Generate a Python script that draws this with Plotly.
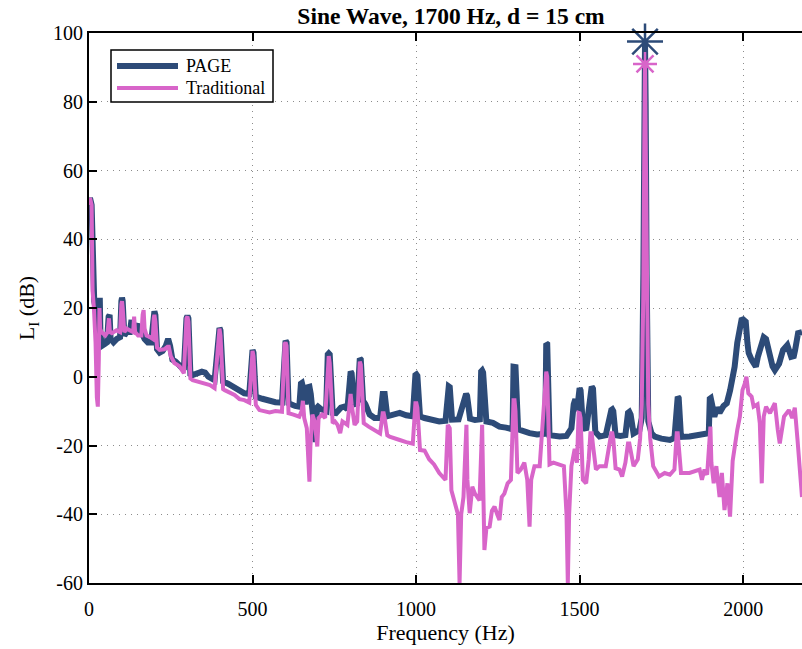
import plotly.graph_objects as go

# ---- data ----
page_f = [0, 3, 8, 12, 16, 20, 24, 28, 31, 33, 35, 40, 48, 55, 60, 63, 66, 75, 85, 95,
          99, 101, 103, 108, 115, 125, 130, 135, 140, 147, 150, 160, 170, 180, 190, 197, 200, 203,
          208, 216, 225, 235, 242, 248, 255, 265, 277, 290, 298, 301, 304, 310, 317, 330, 345, 355,
          365, 384, 396, 399, 402, 410, 425, 445, 460, 475, 490, 497, 500, 503, 510, 530, 552, 570,
          590, 598, 601, 604, 610, 630, 643, 648, 651, 654, 662, 670, 674, 678, 685, 693, 697, 700,
          710, 725, 730, 733, 736, 745, 755, 770, 781, 790, 797, 800, 803, 810, 820, 825, 828, 831,
          838, 845, 858, 873, 890, 898, 901, 904, 912, 925, 950, 970, 990, 998, 1001, 1004, 1012,
          1026, 1050, 1071, 1090, 1097, 1100, 1103, 1110, 1130, 1150, 1153, 1156, 1165, 1180, 1195,
          1199, 1202, 1205, 1215, 1235, 1255, 1275, 1295, 1298, 1301, 1304, 1312, 1330, 1347, 1370,
          1395, 1398, 1401, 1408, 1420, 1439, 1460, 1475, 1482, 1487, 1492, 1497, 1500, 1503, 1510,
          1520, 1533, 1537, 1541, 1548, 1561, 1580, 1597, 1600, 1603, 1610, 1625, 1640, 1648, 1652,
          1656, 1665, 1683, 1690, 1695, 1698, 1700, 1702, 1705, 1710, 1720, 1730, 1750, 1776, 1790,
          1797, 1800, 1803, 1810, 1836, 1860, 1880, 1895, 1898, 1901, 1905, 1912, 1920, 1928, 1940,
          1950, 1960, 1968, 1974, 1982, 1990, 1996, 2002, 2008, 2013, 2017, 2026, 2039, 2045, 2057,
          2063, 2070, 2076, 2082, 2090, 2097, 2110, 2122, 2135, 2147, 2155, 2159, 2168, 2180]
page_db = [50, 52, 50, 30, 22, 20, 12, 10, 21, 23, 12, 9, 9.5, 10, 17.5, 18, 11, 10, 11, 11.5,
           22, 23, 22, 12, 13, 13, 16.5, 13, 14, 15.5, 13, 13, 11, 10, 10, 18.5, 19, 18,
           8, 7, 7.5, 9, 11, 9, 5, 4.4, 3.4, 2, 17, 17.7, 17, 0.8, 0.5, 0.8, 1.5, 1.2,
           0, -1, 13.8, 14.2, 13.5, -1.4, -2, -3.3, -4.3, -4.8, -5, 7.5, 7.8, 7, -5.8, -6.4, -7, -7.4,
           -7.5, 10, 10.5, 10, -7.7, -8.5, -8.7, -2, -1.8, -3, -8, -3, -2.9, -5, -10, -19, -9, -8.7,
           -9.5, -10, 6.5, 6.8, 6.5, -10.5, -10.6, -9, -8.7, -9.5, 1.3, 1.5, 1, -8, -7.8, 5, 5.3, 5,
           -7, -8, -11, -12, -12, -5, -4.8, -5, -11.5, -11.2, -10.5, -11.2, -11.5, 0.5, 0.7, 0.3, -11.5,
           -12, -12.5, -13, -12.8, -3, -2.8, -3, -12.5, -12.4, -5.5, -5, -5.5, -12.2, -12.6, -12.4,
           1.5, 1.8, 1.2, -13, -13.4, -14.5, -14.8, -15.3, 2.9, 3.1, 2.8, -15.3, -16, -16.4, -16.8,
           -16.6, 9.7, 9.5, -17, -17.2, -17.4, -17.2, -15, -8, -6.5, -10, -3.5, -3.3, -4, -14,
           -15.5, -3, -2.9, -3.5, -16, -17.4, -17, -9.7, -9.5, -10, -17, -17.2, -17, -10.5, -10.2,
           -11, -16.5, -15.5, -12, 30, 80, 97.5, 80, 30, -13, -16.5, -17.4, -18, -18.4, -17.8,
           -6, -5.8, -6.2, -17.5, -17.4, -17, -16.6, -16.4, -6.4, -6.2, -8, -11.6, -9, -10.5, -8.5,
           -7.7, -4, 0, 2.9, 9.8, 14, 17, 16.5, 16, 10, 6.9, 4.9, 2.9, 5.8, 10.7,
           11.5, 11, 8, 5.8, 3, 1.9, 3.8, 7.8, 9.2, 5.8, 6, 7.8, 12.7, 13]

trad_f = [0, 3, 8, 11, 15, 20, 24, 27, 30, 32, 34, 38, 42, 50, 57, 61, 64, 70, 84, 95,
          99, 101, 103, 108, 115, 125, 135, 138, 141, 150, 160, 164, 167, 170, 176, 185, 195, 198,
          200, 203, 208, 216, 230, 240, 244, 250, 261, 277, 290, 298, 301, 304, 310, 317, 335, 353,
          370, 384, 396, 399, 402, 410, 415, 445, 460, 475, 490, 497, 500, 503, 510, 521, 552, 570,
          590, 598, 601, 604, 610, 625, 643, 650, 654, 658, 666, 671, 674, 677, 683, 690, 698, 702,
          712, 722, 730, 733, 736, 745, 752, 760, 768, 775, 790, 797, 800, 803, 812, 820, 825, 828,
          831, 840, 855, 873, 890, 898, 901, 904, 912, 919, 935, 950, 970, 990, 998, 1001, 1004,
          1012, 1026, 1040, 1055, 1071, 1090, 1097, 1100, 1103, 1108, 1120, 1128, 1133, 1138, 1145,
          1151, 1154, 1157, 1164, 1172, 1180, 1194, 1199, 1202, 1205, 1209, 1215, 1225, 1232, 1240,
          1248, 1255, 1262, 1270, 1280, 1290, 1298, 1301, 1304, 1310, 1320, 1331, 1340, 1347, 1352,
          1362, 1378, 1395, 1398, 1401, 1408, 1420, 1439, 1452, 1460, 1464, 1468, 1475, 1485, 1492,
          1497, 1500, 1503, 1510, 1520, 1528, 1533, 1537, 1541, 1550, 1561, 1580, 1597, 1600, 1603,
          1610, 1622, 1630, 1640, 1648, 1652, 1656, 1665, 1678, 1685, 1690, 1695, 1698, 1700, 1702,
          1705, 1710, 1716, 1725, 1743, 1760, 1776, 1790, 1797, 1800, 1803, 1810, 1836, 1850, 1867,
          1874, 1882, 1890, 1897, 1900, 1903, 1910, 1918, 1928, 1935, 1943, 1952, 1960, 1968, 1974,
          1982, 1990, 1998, 2005, 2010, 2016, 2026, 2032, 2044, 2051, 2057, 2063, 2070, 2082, 2097,
          2106, 2112, 2125, 2140, 2150, 2158, 2166, 2172, 2180]
trad_db = [50, 52, 50, 25, 20, 10, -6, -8.7, 5, 20, 14, 13, 12.7, 12, 13, 17, 13, 12.7, 13.5, 13,
           21, 22, 20, 13, 14, 13.5, 13, 17.5, 13, 12, 12, 18, 19.4, 14, 12, 11.6, 11, 17,
           18, 16, 8.5, 7.8, 8, 8.7, 8.7, 6, 4, 3, 1, 17, 17.5, 16, -0.5, -1, -1.5, -1.8,
           -2.4, -3.3, 13, 14, 12, -3.6, -3.9, -5.3, -6.5, -6.8, -7.5, 7, 7.5, 6, -8.2, -9.7, -10.4, -10,
           -10.2, 9.5, 10, 9, -10.6, -11, -11.6, -10, -7, -12, -15, -25, -30.5, -20, -11, -13, -20.3, -12,
           -11, -12, 5, 6, 4, -13.5, -13, -14, -16.4, -13, -14, -6, -5, -8, -14, -13, 4, 4.4,
           3.5, -13.5, -14.5, -15.5, -16.5, -10.6, -10.6, -12, -17, -17.4, -18, -18.4, -19, -19.5, -7.7, -7.7, -9,
           -21.3, -21.5, -24, -25.5, -28, -30, -14, -14.5, -15, -33, -36.7, -40, -60, -40, -35,
           -14, -14, -30, -39.7, -32, -34, -36, -14, -14, -30, -50.4, -44, -43.6, -39, -37.8,
           -40, -41.7, -35, -34, -31, -30, -6.8, -6.8, -10, -28, -27, -25, -30, -43.6, -30,
           -26, -26, 1.5, 1.5, 0, -25.5, -25, -25.5, -26, -40, -60, -40, -26, -21, -25,
           -10.5, -10.6, -12, -30, -31, -24, -16.4, -16.4, -20, -27, -26, -26, -16.4, -16.4, -18,
           -26.6, -27, -29, -25, -19.4, -19.4, -22, -26, -24, -18, -8, 25, 70, 91, 70,
           25, -8, -18, -26, -29, -28, -28.5, -27, -16.4, -16.4, -20, -28, -28, -27.5, -27,
           -30, -27, -28.5, -14.5, -14.5, -25, -31, -26, -35, -28, -38.8, -31, -40.7, -24.5, -20,
           -15.5, -11.6, -3.9, -2, 0, -4.8, -5.8, -8.7, -8, -13.5, -31, -11.6, -8.7, -10.6, -7.7,
           -15.5, -19.4, -11.6, -9.7, -12, -9, -18, -25, -35]

peak_f = [1700]
page_peak = [97.5]
trad_peak = [91]

series_names = ["PAGE", "Traditional"]

x_ticks = [0, 500, 1000, 1500, 2000]
x_ticktext = ["0", "500", "1000", "1500", "2000"]
y_ticks = [-60, -40, -20, 0, 20, 40, 60, 80, 100]
y_ticktext = ["-60", "-40", "-20", "0", "20", "40", "60", "80", "100"]

BLUE = "#2D4B78"
PINK = "#D865C9"
FONT = "Liberation Serif, Times New Roman, serif"

# full-window figure (body margin removed in the page)
W, H = 802, 649
ML, MT, MB = 89, 33, 66
PW, PH = W - ML, H - MT - MB


def px(xw):   # window x pixel -> paper x
    return (xw - ML) / PW


def py(yw):   # window y pixel -> paper y
    return (H - MB - yw) / PH


fig = go.Figure()
fig.add_trace(go.Scatter(x=page_f, y=page_db, mode="lines", name=series_names[0],
                         line=dict(color=BLUE, width=6), showlegend=False))
fig.add_trace(go.Scatter(x=trad_f, y=trad_db, mode="lines", name=series_names[1],
                         line=dict(color=PINK, width=4), showlegend=False))
fig.add_trace(go.Scatter(x=peak_f, y=page_peak, mode="markers", showlegend=False,
                         marker=dict(symbol="asterisk-open", size=30,
                                     line=dict(color=BLUE, width=2.5), color=BLUE),
                         cliponaxis=False))
fig.add_trace(go.Scatter(x=peak_f, y=trad_peak, mode="markers", showlegend=False,
                         marker=dict(symbol="asterisk-open", size=20,
                                     line=dict(color=PINK, width=2.5), color=PINK),
                         cliponaxis=False))

# legend box drawn in paper coordinates
shapes = [
    dict(type="rect", xref="paper", yref="paper", x0=px(111), x1=px(273), y0=py(102), y1=py(50),
         line=dict(color="black", width=1.5), fillcolor="white", layer="above"),
    dict(type="line", xref="paper", yref="paper", x0=px(117), x1=px(178), y0=py(66), y1=py(66),
         line=dict(color=BLUE, width=6), layer="above"),
    dict(type="line", xref="paper", yref="paper", x0=px(117), x1=px(178), y0=py(88), y1=py(88),
         line=dict(color=PINK, width=4), layer="above"),
]
annotations = [
    dict(text=series_names[0], xref="paper", yref="paper", x=px(184), y=py(66), xanchor="left",
         yanchor="middle", showarrow=False, font=dict(family=FONT, size=18, color="black")),
    dict(text=series_names[1], xref="paper", yref="paper", x=px(184), y=py(88), xanchor="left",
         yanchor="middle", showarrow=False, font=dict(family=FONT, size=18, color="black")),
]

fig.update_layout(
    width=W, height=H,
    margin=dict(l=ML, r=0, t=MT, b=MB),
    paper_bgcolor="white", plot_bgcolor="white",
    font=dict(family=FONT, size=20, color="black"),
    title=dict(text="<b>Sine Wave, 1700 Hz, d = 15 cm</b>", x=451 / W, xref="container",
               xanchor="center", y=1 - 16 / H, yref="container", yanchor="middle",
               font=dict(family=FONT, size=23.5, color="black")),
    showlegend=False,
    shapes=shapes,
    annotations=annotations,
)
GRID = "#8c8c8c"
fig.update_xaxes(range=[0, 2180], tickvals=x_ticks, ticktext=x_ticktext, ticks="inside",
                 ticklen=8, tickwidth=1.5, tickcolor="black", showline=True, linecolor="black",
                 linewidth=2, mirror="ticks", automargin=False, ticklabelstandoff=7,
                 showgrid=True, gridcolor=GRID, griddash="1px,5px", gridwidth=1.2, zeroline=False,
                 title=dict(text="Frequency (Hz)", standoff=6, font=dict(size=22)))
fig.update_yaxes(range=[-60, 100], tickvals=y_ticks, ticktext=y_ticktext, ticks="inside",
                 ticklen=8, tickwidth=1.5, tickcolor="black", showline=True, linecolor="black",
                 linewidth=2, mirror=False, automargin=False,
                 showgrid=True, gridcolor=GRID, griddash="1px,5px", gridwidth=1.2, zeroline=False,
                 title=dict(text="L<sub>I</sub> (dB)", standoff=12, font=dict(size=22)))

fig.write_html("out.html",
               config={"displayModeBar": False},
               post_script="document.body.style.margin='0px';document.body.style.overflow='hidden';")
